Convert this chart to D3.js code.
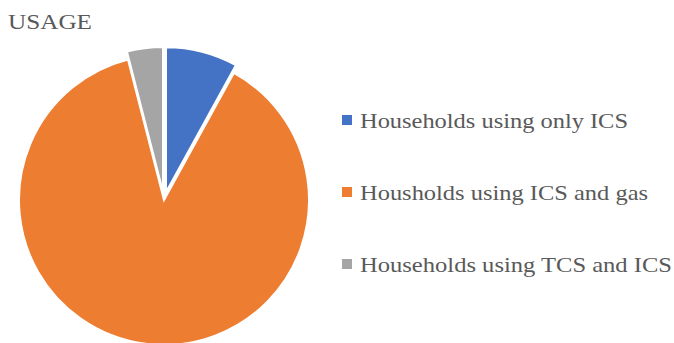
<!DOCTYPE html>
<html>
<head>
<meta charset="utf-8">
<script src="https://cdn.jsdelivr.net/npm/d3@7/dist/d3.min.js"></script>
<style>
  html, body { margin: 0; padding: 0; background: #fff; }
  svg { display: block; }
  text { font-family: "Liberation Serif", "Times New Roman", serif; fill: #595959; }
</style>
</head>
<body>
<svg id="chart" width="674" height="343"></svg>
<script>
// Household stove usage shares (%)
const title = "USAGE";
const categories = [
  "Households using only ICS",
  "Housholds using ICS and gas",
  "Households using TCS and ICS"
];
const values = [8, 88, 4];
const colors = ["#4472C4", "#ED7D31", "#A5A5A5"];

const width = 674, height = 343;
const svg = d3.select("#chart");

const cx = 164, cy = 200, radius = 145;
// small slices pulled out from the centre
const explode = [8, 0, 8];

const pie = d3.pie().sort(null).value(d => d)(values);
const arc = d3.arc().innerRadius(0).outerRadius(radius);

const g = svg.append("g").attr("transform", `translate(${cx},${cy})`);
g.selectAll("path")
  .data(pie)
  .join("path")
  .attr("d", arc)
  .attr("fill", (d, i) => colors[i])
  .attr("stroke", "#fff")
  .attr("stroke-width", 2)
  .attr("stroke-linejoin", "miter")
  .attr("transform", (d, i) => {
    const a = (d.startAngle + d.endAngle) / 2;
    return `translate(${explode[i] * Math.sin(a)},${-explode[i] * Math.cos(a)})`;
  });

svg.append("text")
  .attr("x", 8)
  .attr("y", 29)
  .attr("font-size", 21)
  .attr("textLength", 84)
  .attr("lengthAdjust", "spacingAndGlyphs")
  .text(title);

// Legend
const legendY = d3.scalePoint().domain(categories).range([128, 272]);
const legendWidths = [268, 288, 312];
const leg = svg.append("g");
const items = leg.selectAll("g").data(categories).join("g")
  .attr("transform", d => `translate(342,${legendY(d)})`);
items.append("rect")
  .attr("x", 0).attr("y", -13)
  .attr("width", 10).attr("height", 10)
  .attr("fill", (d, i) => colors[i]);
items.append("text")
  .attr("x", 18)
  .attr("y", 0)
  .attr("font-size", 22)
  .attr("textLength", (d, i) => legendWidths[i])
  .attr("lengthAdjust", "spacingAndGlyphs")
  .text(d => d);
</script>
</body>
</html>
